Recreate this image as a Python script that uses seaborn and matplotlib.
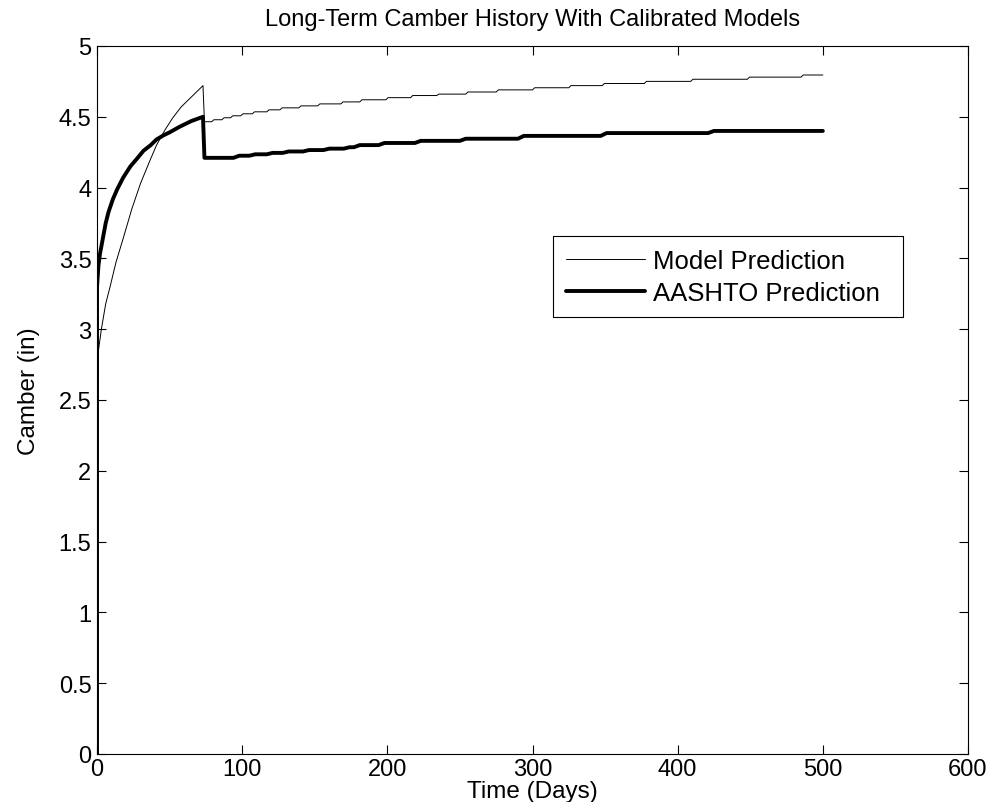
import matplotlib
matplotlib.use("Agg")
import matplotlib.pyplot as plt
import matplotlib.ticker as mticker
import pandas as pd
import seaborn as sns

# Model prediction: rising part up to release, then stepped creep growth
model_rise_days = [0, 0, 1, 3, 6, 9, 13, 18, 24, 30, 36, 41, 47, 52, 58, 64, 69, 73, 74]
model_rise_camber = [0, 2.45, 2.85, 3.0, 3.18, 3.3, 3.47, 3.64, 3.85, 4.03, 4.18, 4.3,
                     4.41, 4.49, 4.57, 4.63, 4.68, 4.72, 4.465]
model_step_days = [79, 86, 92, 99, 107, 117, 126, 139, 152, 168, 181, 199, 216, 234,
                   254, 275, 300, 325, 348, 377, 409, 448, 485]
model_step_camber = [4.479, 4.493, 4.507, 4.521, 4.535, 4.549, 4.563, 4.577, 4.591, 4.605,
                     4.62, 4.635, 4.65, 4.66, 4.675, 4.69, 4.705, 4.72, 4.735, 4.75,
                     4.765, 4.78, 4.795]

# AASHTO prediction
aashto_rise_days = [0, 0, 1, 2, 4, 6, 8, 11, 14, 18, 23, 28, 32, 37, 41, 46, 50, 57, 65, 73, 74]
aashto_rise_camber = [0, 3.3, 3.45, 3.53, 3.64, 3.75, 3.83, 3.92, 3.99, 4.07, 4.15, 4.21,
                      4.26, 4.3, 4.34, 4.37, 4.39, 4.43, 4.47, 4.5, 4.21]
aashto_step_days = [94, 105, 117, 128, 142, 156, 170, 177, 194, 219, 250, 290, 347, 421]
aashto_step_camber = [4.225, 4.235, 4.245, 4.255, 4.265, 4.275, 4.285, 4.3, 4.315,
                      4.33, 4.345, 4.365, 4.385, 4.4]

END_DAY = 500


def build_series(rise_days, rise_vals, step_days, step_vals, ramp):
    """Join the rising part with the stepped tail into one frame."""
    days = list(rise_days)
    vals = list(rise_vals)
    prev = vals[-1]
    for d, v in zip(step_days, step_vals):
        days += [d, d + ramp]
        vals += [prev, v]
        prev = v
    days.append(END_DAY)
    vals.append(prev)
    return pd.DataFrame({"day": days, "camber": vals})


model_df = build_series(model_rise_days, model_rise_camber, model_step_days, model_step_camber, 1.5)
aashto_df = build_series(aashto_rise_days, aashto_rise_camber, aashto_step_days, aashto_step_camber, 4)

sns.set_theme(style="ticks")
plt.rcParams.update({
    "font.family": ["Liberation Sans", "DejaVu Sans"],
    "axes.edgecolor": "black",
    "axes.linewidth": 0.8,
    "text.color": "black",
    "axes.labelcolor": "black",
    "xtick.color": "black",
    "ytick.color": "black",
})

fig = plt.figure(figsize=(9.92, 8.03), dpi=100)
ax = fig.add_axes([0.0978, 0.0598, 0.8780, 0.8817])

sns.lineplot(data=model_df, x="day", y="camber", color="black", linewidth=0.7,
             estimator=None, sort=False, label="Model Prediction", ax=ax)
sns.lineplot(data=aashto_df, x="day", y="camber", color="black", linewidth=2.8,
             estimator=None, sort=False, label="AASHTO Prediction", ax=ax)

ax.set_xlim(0, 600)
ax.set_ylim(0, 5)
ax.set_xticks(range(0, 601, 100))
ax.set_yticks([i * 0.5 for i in range(11)])
ax.yaxis.set_major_formatter(mticker.FuncFormatter(lambda v, _: f"{v:g}"))
ax.tick_params(direction="in", length=6.5, width=0.8, top=True, right=True,
               labelsize=17, pad=4)
ax.tick_params(axis="x", pad=3)
for s in ax.spines.values():
    s.set_visible(True)

ax.set_xlabel("Time (Days)", fontsize=17.5)
ax.set_ylabel("Camber (in)", fontsize=17.5)
ax.xaxis.set_label_coords(0.5, -0.037)
ax.yaxis.set_label_coords(-0.066, 0.514)
ax.set_title("Long-Term Camber History With Calibrated Models", fontsize=17, pad=15)

leg = ax.legend(loc="upper left", bbox_to_anchor=(0.5235, 0.614, 0.4015, 0.1176),
                mode="expand", borderaxespad=0,
                fancybox=False, edgecolor="black", framealpha=1, fontsize=18.5,
                handlelength=3.1, handletextpad=0.3, borderpad=0.5, labelspacing=0.3)
leg.get_frame().set_linewidth(0.8)

fig.savefig("out.png", dpi=100)
